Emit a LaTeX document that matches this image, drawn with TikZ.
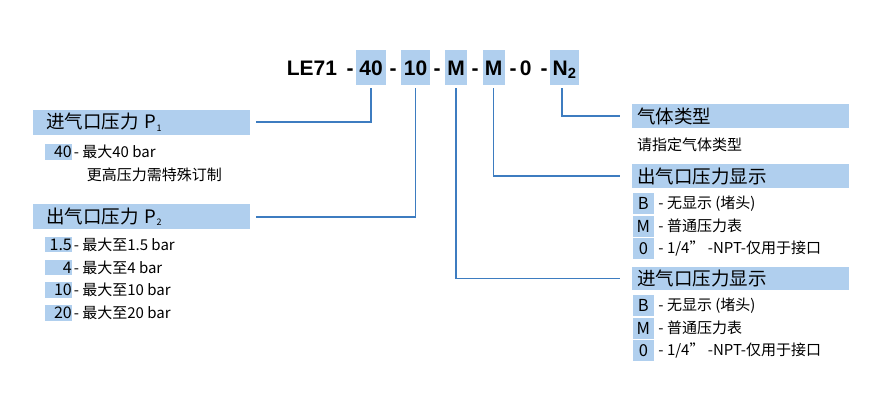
\documentclass[tikz,border=0pt]{standalone}
\usepackage{fontspec}
\setmainfont{Noto Sans CJK SC}
\newfontfamily\codefont{Liberation Sans}
\definecolor{boxblue}{HTML}{B0CFEE}
\definecolor{lineblue}{HTML}{3D7CC0}
\tikzset{
  code/.style={font=\codefont\bfseries\fontsize{21}{24}\selectfont,
    inner sep=0pt, text height=15pt, text depth=0pt},
  codebox/.style={code, fill=boxblue, minimum height=35pt},
  head/.style={fill=boxblue, anchor=west, align=left, minimum height=22pt,
    text=black, font=\fontsize{18.5}{20}\selectfont},
  lhead/.style={head, text width=190.6pt, inner xsep=13.3pt},
  rhead/.style={head, text width=206pt, inner xsep=5.3pt},
  desc/.style={anchor=west, inner sep=0pt, text=black,
    font=\fontsize{15}{18}\selectfont},
  lkey/.style={desc, anchor=center, fill=boxblue, text width=26.3pt,
    align=right, inner xsep=0.5pt, minimum height=15.5pt,
    font=\fontsize{16}{18}\selectfont},
  rkey/.style={desc, anchor=center, fill=boxblue, minimum width=21.3pt,
    minimum height=21pt, font=\fontsize{16.5}{18}\selectfont},
  conn/.style={draw=lineblue, line width=1.5pt, shorten <=3pt}
}
\begin{document}
\begin{tikzpicture}[x=1pt,y=-1pt]
  \useasboundingbox (0,0) rectangle (885,400);
  % order code
  \node[code] (le) at (312,67.5) {LE71};
  \foreach \x in {350,393,437,475,513,544}
    \node[code] (d\x) at (\x,67.5) {-};
  \node[codebox, minimum width=30pt] (c40) at (371,67.5) {40};
  \node[codebox, minimum width=29pt] (c10) at (415.5,67.5) {10};
  \node[codebox, minimum width=22.5pt] (cpi) at (456,67.5) {M};
  \node[codebox, minimum width=22pt] (cpo) at (493.5,67.5) {M};
  \node[code] (cport) at (525.7,67.5) {0};
  \node[codebox, minimum width=29pt] (cgas) at (564.5,67.5) {N\textsubscript{2}};
  % headers
  \node[lhead] (hin) at (32.7,122.2) {进气口压力 P\textsubscript{\small 1}};
  \node[lhead] (hout) at (32.7,216.9) {出气口压力 P\textsubscript{\small 2}};
  \node[rhead] (hgas) at (631.7,116.2) {气体类型};
  \node[rhead] (hpo) at (631.7,176.2) {出气口压力显示};
  \node[rhead] (hpi) at (631.7,278.5) {进气口压力显示};
  % left options
  \node[lkey] (kin) at (58.7,152) {40};
  \node[desc] (din) at ([xshift=1pt]kin.east) {- 最大40 bar};
  \node[desc] (din2) at (86.7,175) {更高压力需特殊订制};
  \foreach \k/\p [count=\i] in {1.5/0,4/4,10/4,20/4}{
    \pgfmathsetmacro\y{244.7+22.7*(\i-1)}
    \node[lkey] (kout\i) at (58.7,\y) {\k\hspace{\p pt}};
    \node[desc] (dout\i) at ([xshift=1pt]kout\i.east) {- 最大至\k{} bar};
  }
  % right options
  \node[desc] (dgas) at (637,145) {请指定气体类型};
  \foreach \h in {hpo,hpi}
    \foreach \k/\d [count=\i] in {B/{- 无显示 (堵头)},M/{- 普通压力表},0/{- 1/4” -NPT-仅用于接口}}{
      \node[rkey] (k\h\i) at ([shift={(11.7,27.3+22.5*(\i-1))}]\h.west) {\k};
      \node[desc] (d\h\i) at ([xshift=4pt]k\h\i.east) {\d};
    }
  % connectors
  \draw[conn, shorten >=6pt] (c40.south) |- (hin.east);
  \draw[conn, shorten >=6pt] (c10.south) |- (hout.east);
  \draw[conn, shorten >=12pt] (cpi.south) |- (hpi.west);
  \draw[conn, shorten >=12pt] (cpo.south) |- (hpo.west);
  \draw[conn, shorten >=12pt] ([xshift=-2.5pt]cgas.south) |- (hgas.west);
\end{tikzpicture}
\end{document}
